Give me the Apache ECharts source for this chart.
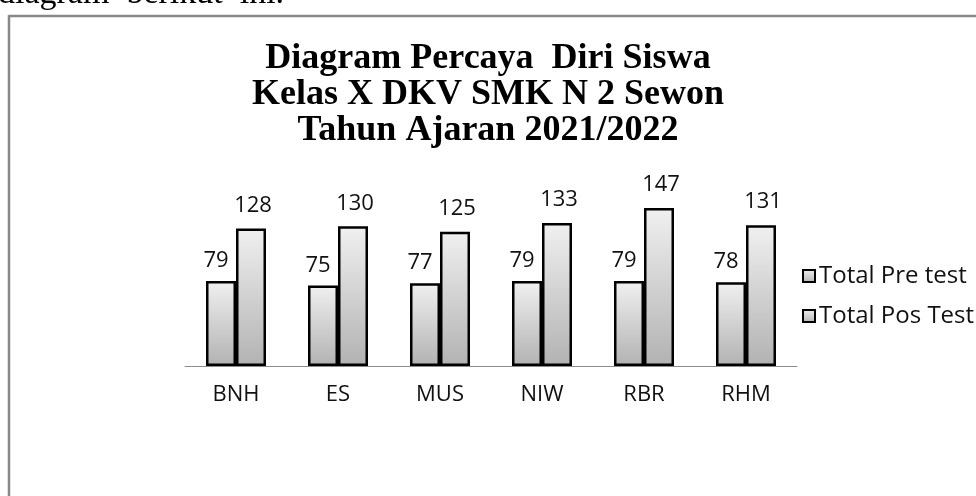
<!DOCTYPE html>
<html>
<head>
<meta charset="utf-8">
<script src="https://cdn.jsdelivr.net/npm/echarts@6/dist/echarts.min.js"></script>
<style>
html,body{margin:0;padding:0;background:#fff;}
#chart{width:976px;height:496px;}
</style>
</head>
<body>
<div id="chart"></div>
<script>
var categories = ['BNH', 'ES', 'MUS', 'NIW', 'RBR', 'RHM'];
var preTest = [79, 75, 77, 79, 79, 78];
var posTest = [128, 130, 125, 133, 147, 131];
var seriesNames = ['Total Pre test', 'Total Pos Test'];
var titleText = 'Diagram Percaya  Diri Siswa\nKelas X DKV SMK N 2 Sewon\nTahun Ajaran 2021/2022';

var barFill = new echarts.graphic.LinearGradient(0, 0, 0, 1, [
  {offset: 0, color: '#f0f0f0'},
  {offset: 1, color: '#b2b2b2'}
]);
var sansFont = '"Open Sans", "Noto Sans", sans-serif';

var chart = echarts.init(document.getElementById('chart'));
chart.setOption({
  backgroundColor: '#ffffff',
  animation: false,
  title: {
    text: titleText,
    left: 'center',
    top: 36,
    textStyle: {
      fontFamily: '"Liberation Serif", "Times New Roman", serif',
      fontWeight: 'bold',
      fontSize: 36,
      lineHeight: 36,
      color: '#000'
    }
  },
  graphic: [
    {type: 'text', left: -2, top: -23, style: {text: 'diagram  berikut  ini.', font: '34px "Liberation Serif", serif', fill: '#000'}},
    {type: 'line', shape: {x1: 9, y1: 16, x2: 976, y2: 16}, style: {stroke: '#888888', lineWidth: 2.5}},
    {type: 'line', shape: {x1: 9, y1: 15, x2: 9, y2: 496}, style: {stroke: '#888888', lineWidth: 2.5}}
  ],
  legend: {
    orient: 'vertical',
    left: 797,
    top: 259,
    itemWidth: 12,
    itemHeight: 12,
    itemGap: 16,
    icon: 'rect',
    itemStyle: {borderColor: '#000', borderWidth: 2},
    textStyle: {fontFamily: sansFont, fontSize: 24, color: '#111', padding: [0, 0, 0, -1]},
    data: seriesNames
  },
  grid: {left: 185, right: 179, top: 194, bottom: 130, containLabel: false},
  xAxis: {
    type: 'category',
    data: categories,
    axisLine: {lineStyle: {color: '#8c8c8c', width: 1}},
    axisTick: {length: 7, lineStyle: {color: '#8c8c8c', width: 1}},
    axisLabel: {fontFamily: sansFont, fontSize: 22, color: '#111', margin: 18}
  },
  yAxis: {
    type: 'value',
    min: 0,
    max: 160,
    show: false,
    splitLine: {show: false}
  },
  series: [
    {
      name: seriesNames[0],
      type: 'bar',
      data: preTest,
      barWidth: 30,
      barGap: '0%',
      itemStyle: {color: barFill, borderColor: '#000', borderWidth: 2.5},
      label: {show: true, position: 'top', distance: 9, offset: [-5, 0], fontFamily: sansFont, fontSize: 22, color: '#111'}
    },
    {
      name: seriesNames[1],
      type: 'bar',
      data: posTest,
      barWidth: 30,
      barGap: '0%',
      itemStyle: {color: barFill, borderColor: '#000', borderWidth: 2.5},
      label: {show: true, position: 'top', distance: 12, offset: [2, 0], fontFamily: sansFont, fontSize: 22, color: '#111'}
    }
  ]
});
</script>
</body>
</html>
